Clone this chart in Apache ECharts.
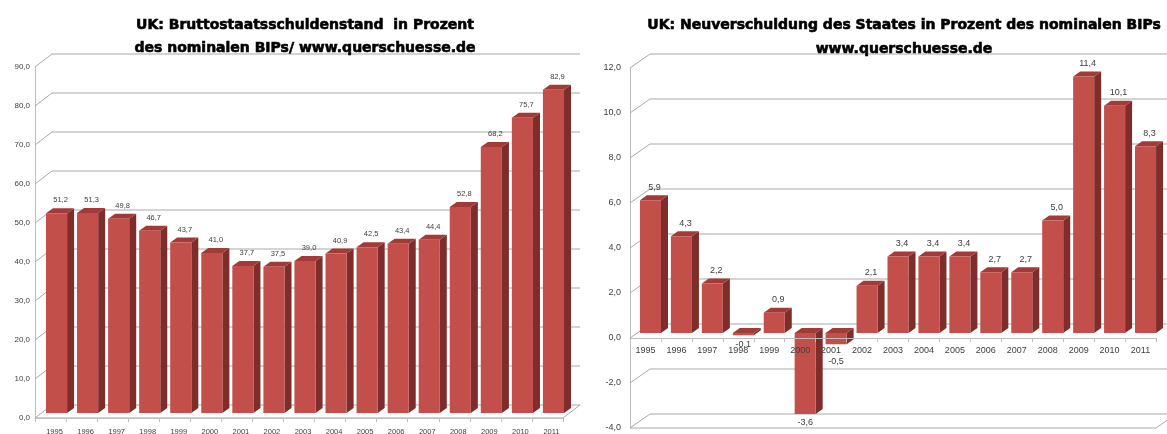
<!DOCTYPE html>
<html>
<head>
<meta charset="utf-8">
<title>UK Staatsschulden</title>
<script src="https://cdn.jsdelivr.net/npm/echarts@6/dist/echarts.min.js"></script>
<style>
  html, body { margin: 0; padding: 0; background: #ffffff; }
  #chart { width: 1167px; height: 434px; }
</style>
</head>
<body>
<div id="chart"></div>
<script>
// Jahre (Kategorien), beide Diagramme
const years = ['1995', '1996', '1997', '1998', '1999', '2000', '2001', '2002', '2003',
  '2004', '2005', '2006', '2007', '2008', '2009', '2010', '2011'];

// Bruttostaatsschuldenstand in % des BIP
const debtRatio = [51.2, 51.3, 49.8, 46.7, 43.7, 41.0, 37.7, 37.5, 39.0,
  40.9, 42.5, 43.4, 44.4, 52.8, 68.2, 75.7, 82.9];

// Neuverschuldung in % des BIP
const newBorrowing = [5.9, 4.3, 2.2, -0.1, 0.9, -3.6, -0.5, 2.1, 3.4,
  3.4, 3.4, 2.7, 2.7, 5.0, 11.4, 10.1, 8.3];

// Achsenteilung
const debtTicks = [0, 10, 20, 30, 40, 50, 60, 70, 80, 90];
const borrowTicks = [-4, -2, 0, 2, 4, 6, 8, 10, 12];

const titleLeft = 'UK: Bruttostaatsschuldenstand  in Prozent\ndes nominalen BIPs/ www.querschuesse.de';
const titleRight = 'UK: Neuverschuldung des Staates in Prozent des nominalen BIPs\nwww.querschuesse.de';

const fmt = v => v.toFixed(1).replace('.', ',');

const chart = echarts.init(document.getElementById('chart'), null, { renderer: 'canvas' });

// Plotflächen (Vorderebene)
const grids = [
  { left: 35, top: 67, width: 528, height: 351, outerBoundsMode: 'none' },
  { left: 630, top: 68, width: 526, height: 360, outerBoundsMode: 'none' }
];

// 3D-Darstellung: Rückwand-Versatz und Balkentiefe (Pixel)
const wallOffset = [{ dx: 17, dy: -13 }, { dx: 20, dy: -14 }];
const barShift = [{ sx: 6, sy: -5 }, { sx: 5, sy: -5 }];
const barDepth = { dx: 7, dy: -5 };
const labelSize = [7.5, 9];

const FRONT = '#C34F4B';
const SIDE = '#7E2D2B';
const TOP = '#A23A37';
const GRID = '#A9A9A9';
const AXIS = '#BDBDBD';

function wallRenderer(k, ticks) {
  const off = wallOffset[k];
  const minV = ticks[0];
  return function (params, api) {
    const v = api.value(1);
    const c = api.coord([0, v]);
    const band = api.size([1, 0])[0];
    const x0 = c[0] - band / 2;
    const x1 = x0 + band * years.length;
    const y = c[1];
    const children = [{
      type: 'polyline',
      shape: { points: [[x0, y], [x0 + off.dx, y + off.dy], [x1 + off.dx, y + off.dy]] },
      style: { stroke: GRID, lineWidth: 1, fill: null }
    }];
    if (v === minV) {
      // Boden: Vorderkante und rechte Schräge
      children.push({
        type: 'polyline',
        shape: { points: [[x0, y], [x1, y], [x1 + off.dx, y + off.dy]] },
        style: { stroke: GRID, lineWidth: 1, fill: null }
      });
    }
    return { type: 'group', children: children };
  };
}

function barRenderer(k) {
  const sh = barShift[k];
  const fs = labelSize[k];
  return function (params, api) {
    const idx = api.value(0);
    const v = api.value(1);
    const c = api.coord([idx, v]);
    const b = api.coord([idx, 0]);
    const band = api.size([1, 0])[0];
    const w = band * 0.68;
    const cx = c[0] + sh.sx;
    const xl = cx - w / 2, xr = cx + w / 2;
    const yTop = Math.min(c[1], b[1]) + sh.sy;
    const yBot = Math.max(c[1], b[1]) + sh.sy;
    const d = barDepth;
    let lx, ly;
    if (v >= 0) {
      lx = cx + 4;
      ly = yTop + d.dy - 8;
    } else {
      lx = cx;
      ly = yBot + 9;
      // nicht mit der Jahresbeschriftung kollidieren
      const yearY = b[1] + 12;
      if (Math.abs(ly - yearY) < 5) ly = yearY + 12;
    }
    return {
      type: 'group',
      children: [
        {
          type: 'polygon',
          shape: { points: [[xr, yTop], [xr + d.dx, yTop + d.dy], [xr + d.dx, yBot + d.dy], [xr, yBot]] },
          style: { fill: SIDE }
        },
        {
          type: 'polygon',
          shape: { points: [[xl, yTop], [xl + d.dx, yTop + d.dy], [xr + d.dx, yTop + d.dy], [xr, yTop]] },
          style: { fill: TOP }
        },
        {
          type: 'rect',
          shape: { x: xl, y: yTop, width: w, height: Math.max(yBot - yTop, 0.5) },
          style: { fill: FRONT }
        },
        {
          type: 'text',
          x: lx, y: ly,
          style: {
            text: fmt(v), fill: '#404040', fontSize: fs,
            fontFamily: 'Liberation Sans, Arial, sans-serif',
            align: 'center', verticalAlign: 'middle'
          }
        }
      ]
    };
  };
}

// Kategorienachse liegt auf dem Nullpunkt der Werteachse
function zeroOffset(k, ticks) {
  const lo = ticks[0], hi = ticks[ticks.length - 1];
  return -grids[k].height * (0 - lo) / (hi - lo);
}

function xAxisCfg(k, ticks) {
  return {
    gridIndex: k,
    type: 'category',
    data: years,
    position: 'bottom',
    offset: zeroOffset(k, ticks),
    z: 10,
    axisLine: { show: true, onZero: false, lineStyle: { color: AXIS, width: 1 } },
    axisTick: { show: true, length: 4, lineStyle: { color: AXIS } },
    axisLabel: {
      color: '#404040', fontSize: labelSize[k], margin: k === 0 ? 10 : 8,
      fontFamily: 'Liberation Sans, Arial, sans-serif',
      padding: k === 0 ? [0, 0, 0, 8] : 0
    },
    splitLine: { show: false }
  };
}

function yAxisCfg(k, ticks) {
  return {
    gridIndex: k,
    type: 'value',
    min: ticks[0],
    max: ticks[ticks.length - 1],
    interval: ticks[1] - ticks[0],
    axisLine: { show: true, lineStyle: { color: AXIS, width: 1 } },
    axisTick: { show: false },
    splitLine: { show: false },
    axisLabel: {
      color: '#404040', fontSize: k === 0 ? 8 : 9, margin: k === 0 ? 5 : 9,
      fontFamily: 'Liberation Sans, Arial, sans-serif',
      formatter: v => fmt(v)
    }
  };
}

const titleStyle = {
  fontFamily: 'DejaVu Sans, sans-serif',
  fontWeight: 'bold',
  fontSize: 14,
  color: '#000000',
  textBorderColor: '#000000',
  textBorderWidth: 0.6,
  lineHeight: 23
};

chart.setOption({
  animation: false,
  backgroundColor: '#ffffff',
  title: [
    { text: titleLeft, left: 300, top: 9, textAlign: 'center', textStyle: titleStyle },
    { text: titleRight, left: 899, top: 8, textAlign: 'center', textStyle: Object.assign({}, titleStyle, { lineHeight: 24 }) }
  ],
  grid: grids,
  xAxis: [xAxisCfg(0, debtTicks), xAxisCfg(1, borrowTicks)],
  yAxis: [yAxisCfg(0, debtTicks), yAxisCfg(1, borrowTicks)],
  series: [
    {
      type: 'custom', xAxisIndex: 0, yAxisIndex: 0, z: 1, silent: true,
      renderItem: wallRenderer(0, debtTicks),
      data: debtTicks.map(t => [0, t])
    },
    {
      type: 'custom', xAxisIndex: 1, yAxisIndex: 1, z: 1, silent: true,
      renderItem: wallRenderer(1, borrowTicks),
      data: borrowTicks.map(t => [0, t])
    },
    {
      type: 'custom', xAxisIndex: 0, yAxisIndex: 0, z: 5,
      renderItem: barRenderer(0),
      data: debtRatio.map((v, i) => [i, v])
    },
    {
      type: 'custom', xAxisIndex: 1, yAxisIndex: 1, z: 5,
      renderItem: barRenderer(1),
      data: newBorrowing.map((v, i) => [i, v])
    }
  ]
});
</script>
</body>
</html>
